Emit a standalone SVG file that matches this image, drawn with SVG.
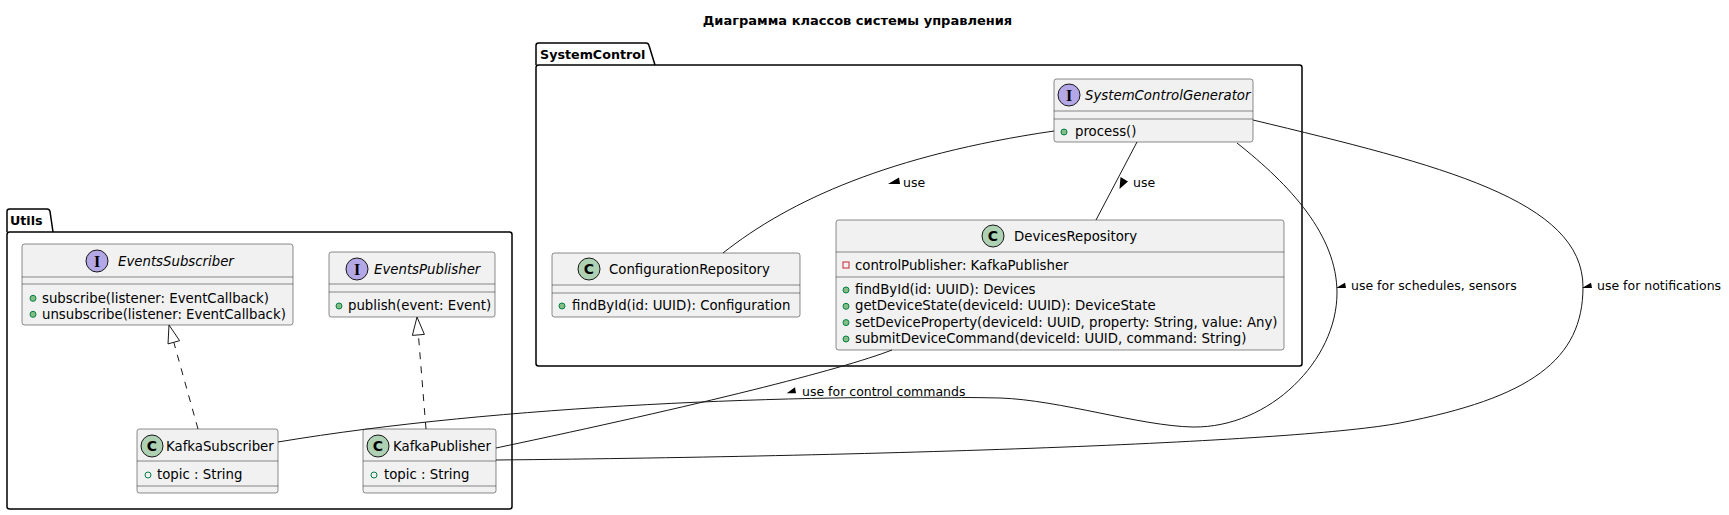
<svg xmlns="http://www.w3.org/2000/svg" width="1729" height="515" viewBox="0 0 1729 515">
<style>
text{font-family:"DejaVu Sans","Liberation Sans",sans-serif;fill:#000}
.title{font-size:13px;font-weight:bold}
.pkg{fill:none;stroke:#000;stroke-width:1.5}
.pkgname{font-size:12.7px;font-weight:bold}
.box{fill:#F1F1F1;stroke:#181818;stroke-width:0.5}
.sep{stroke:#181818;stroke-width:0.5}
.name{font-size:13.3px}
.iname{font-size:13.3px;font-style:italic}
.mem{font-size:13.3px}
.lbl{font-size:12.5px}
.cc{fill:#ADD1B2;stroke:#181818;stroke-width:1}
.ic{fill:#B4A7E5;stroke:#181818;stroke-width:1}
.letter{font-size:14px;font-weight:bold;text-anchor:middle}
.iletter{font-family:"Liberation Serif",serif;font-size:16px;font-weight:bold;text-anchor:middle}
.pub{fill:#84BE84;stroke:#038048;stroke-width:1}
.pubattr{fill:none;stroke:#038048;stroke-width:1}
.priv{fill:none;stroke:#C82930;stroke-width:1}
.edge{fill:none;stroke:#181818;stroke-width:1}
.dash{fill:none;stroke:#181818;stroke-width:1;stroke-dasharray:7,7}
.head{fill:#FFFFFF;stroke:#181818;stroke-width:1}
.tri{fill:#000}
</style>

<text class="title" x="857.5" y="25" text-anchor="middle">Диаграмма классов системы управления</text>

<g id="pkg-SystemControl">
  <path class="pkg" d="M536,65 L536,45.5 Q536,43 538.5,43 L646,43 Q648.5,43 649,45.5 L655,65"/>
  <rect class="pkg" x="536" y="65" width="766" height="301" rx="2.5"/>
  <text class="pkgname" x="540" y="58.5">SystemControl</text>
</g>

<g id="pkg-Utils">
  <path class="pkg" d="M7,232 L7,211.5 Q7,209 9.5,209 L47,209 Q49.5,209 50,211.5 L53,232"/>
  <rect class="pkg" x="7" y="232" width="505" height="277" rx="2.5"/>
  <text class="pkgname" x="10" y="225">Utils</text>
</g>

<g id="SystemControlGenerator">
  <rect class="box" x="1054" y="79" width="199" height="63" rx="2.5"/>
  <circle class="ic" cx="1069" cy="95" r="11"/>
  <text class="iletter" x="1069" y="100.5">I</text>
  <text class="iname" x="1085" y="100">SystemControlGenerator</text>
  <line class="sep" x1="1054" y1="111" x2="1253" y2="111"/>
  <line class="sep" x1="1054" y1="119" x2="1253" y2="119"/>
  <circle class="pub" cx="1064" cy="132" r="3"/>
  <text class="mem" x="1075" y="136">process()</text>
</g>

<g id="ConfigurationRepository">
  <rect class="box" x="552" y="253" width="248" height="64" rx="2.5"/>
  <circle class="cc" cx="589" cy="269" r="11"/>
  <text class="letter" x="589" y="274">C</text>
  <text class="name" x="609" y="274">ConfigurationRepository</text>
  <line class="sep" x1="552" y1="285" x2="800" y2="285"/>
  <line class="sep" x1="552" y1="293" x2="800" y2="293"/>
  <circle class="pub" cx="562" cy="306" r="3"/>
  <text class="mem" x="572" y="310">findById(id: UUID): Configuration</text>
</g>

<g id="DevicesRepository">
  <rect class="box" x="836" y="220" width="448" height="130" rx="2.5"/>
  <circle class="cc" cx="993" cy="236" r="11"/>
  <text class="letter" x="993" y="241">C</text>
  <text class="name" x="1014" y="241">DevicesRepository</text>
  <line class="sep" x1="836" y1="252" x2="1284" y2="252"/>
  <rect class="priv" x="843" y="262" width="6" height="6"/>
  <text class="mem" x="855" y="270">controlPublisher: KafkaPublisher</text>
  <line class="sep" x1="836" y1="277" x2="1284" y2="277"/>
  <circle class="pub" cx="846" cy="290" r="3"/>
  <text class="mem" x="855" y="294">findById(id: UUID): Devices</text>
  <circle class="pub" cx="846" cy="306.3" r="3"/>
  <text class="mem" x="855" y="310.3">getDeviceState(deviceId: UUID): DeviceState</text>
  <circle class="pub" cx="846" cy="322.6" r="3"/>
  <text class="mem" x="855" y="326.6">setDeviceProperty(deviceId: UUID, property: String, value: Any)</text>
  <circle class="pub" cx="846" cy="339" r="3"/>
  <text class="mem" x="855" y="343">submitDeviceCommand(deviceId: UUID, command: String)</text>
</g>

<g id="EventsSubscriber">
  <rect class="box" x="22" y="244" width="271" height="81" rx="2.5"/>
  <circle class="ic" cx="97" cy="261" r="11"/>
  <text class="iletter" x="97" y="266.5">I</text>
  <text class="iname" x="118" y="266">EventsSubscriber</text>
  <line class="sep" x1="22" y1="277" x2="293" y2="277"/>
  <line class="sep" x1="22" y1="284" x2="293" y2="284"/>
  <circle class="pub" cx="33" cy="298.3" r="3"/>
  <text class="mem" x="42" y="302.5">subscribe(listener: EventCallback)</text>
  <circle class="pub" cx="33" cy="314.3" r="3"/>
  <text class="mem" x="42" y="318.5">unsubscribe(listener: EventCallback)</text>
</g>

<g id="EventsPublisher">
  <rect class="box" x="329" y="252" width="166" height="65" rx="2.5"/>
  <circle class="ic" cx="357" cy="269" r="11"/>
  <text class="iletter" x="357" y="274.5">I</text>
  <text class="iname" x="374" y="274">EventsPublisher</text>
  <line class="sep" x1="329" y1="284" x2="495" y2="284"/>
  <line class="sep" x1="329" y1="292" x2="495" y2="292"/>
  <circle class="pub" cx="339" cy="306" r="3"/>
  <text class="mem" x="348" y="310">publish(event: Event)</text>
</g>

<g id="KafkaSubscriber">
  <rect class="box" x="137" y="429" width="141" height="64" rx="2.5"/>
  <circle class="cc" cx="152" cy="446" r="11"/>
  <text class="letter" x="152" y="451">C</text>
  <text class="name" x="166" y="451">KafkaSubscriber</text>
  <line class="sep" x1="137" y1="461" x2="278" y2="461"/>
  <circle class="pubattr" cx="148" cy="475" r="3"/>
  <text class="mem" x="157" y="479">topic : String</text>
  <line class="sep" x1="137" y1="486" x2="278" y2="486"/>
</g>

<g id="KafkaPublisher">
  <rect class="box" x="363" y="429" width="133" height="64" rx="2.5"/>
  <circle class="cc" cx="378" cy="446" r="11"/>
  <text class="letter" x="378" y="451">C</text>
  <text class="name" x="393" y="451">KafkaPublisher</text>
  <line class="sep" x1="363" y1="461" x2="496" y2="461"/>
  <circle class="pubattr" cx="374" cy="475" r="3"/>
  <text class="mem" x="384" y="479">topic : String</text>
  <line class="sep" x1="363" y1="486" x2="496" y2="486"/>
</g>

<g id="connectors">
  <!-- realizations -->
  <path class="dash" d="M198,429 L173.8,342.3"/>
  <polygon class="head" points="169,325 179.6,340.7 168,343.9"/>
  <path class="dash" d="M426,429 L418.4,334.9"/>
  <polygon class="head" points="417,317 424.4,334.4 412.4,335.4"/>

  <!-- SCG - ConfigurationRepository -->
  <path class="edge" d="M723,253 C790,200 890,155 1054,131"/>
  <polygon class="tri" points="888,184 900,184 899,177.5"/>
  <text class="lbl" x="903" y="187">use</text>

  <!-- SCG - DevicesRepository -->
  <path class="edge" d="M1137,142 L1096,220"/>
  <polygon class="tri" points="1120.5,177 1128,181.5 1119.5,189"/>
  <text class="lbl" x="1133" y="187">use</text>

  <!-- DevicesRepository - KafkaPublisher -->
  <path class="edge" d="M892,350 C840,370 700,405 496,448"/>
  <polygon class="tri" points="786.7,393.3 796,393.3 795,387.3"/>
  <text class="lbl" x="802" y="396">use for control commands</text>

  <!-- SCG - KafkaSubscriber -->
  <path class="edge" d="M1237,143 C1290,185 1337,235 1337,293 C1337,360 1270,428 1193,427 C1140,426 1060,400 1000,398 C800,394 500,405 278,442"/>
  <polygon class="tri" points="1336,288 1346,288 1345,282.7"/>
  <text class="lbl" x="1351" y="290">use for schedules, sensors</text>

  <!-- SCG - KafkaPublisher -->
  <path class="edge" d="M1253,120 C1440,165 1583,200 1583,287 C1583,360 1530,398 1400,423 C1300,442 900,456 496,460"/>
  <polygon class="tri" points="1582,288 1592,288 1591,282.7"/>
  <text class="lbl" x="1597" y="290">use for notifications</text>
</g>
</svg>
